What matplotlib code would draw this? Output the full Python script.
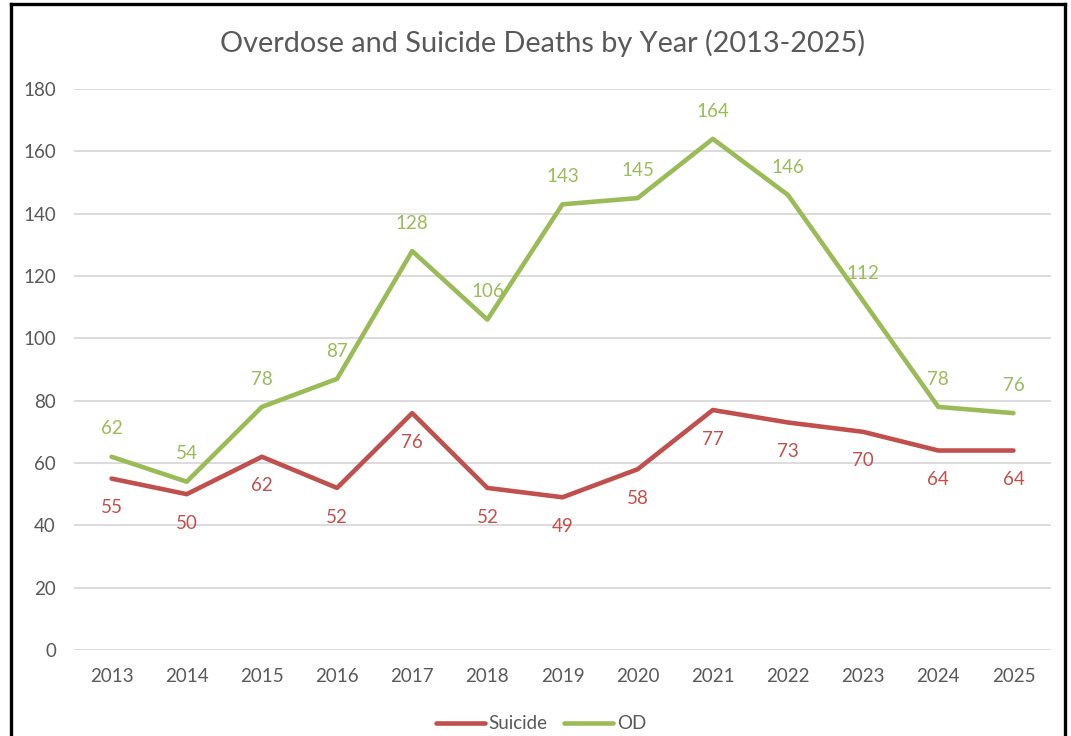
import matplotlib.pyplot as plt
from matplotlib.lines import Line2D

years = ['2013', '2014', '2015', '2016', '2017', '2018', '2019',
         '2020', '2021', '2022', '2023', '2024', '2025']
suicide = [55, 50, 62, 52, 76, 52, 49, 58, 77, 73, 70, 64, 64]
od = [62, 54, 78, 87, 128, 106, 143, 145, 164, 146, 112, 78, 76]

red = '#C0504D'
green = '#9BBB59'
grey = '#595959'
fs = 13.5

plt.rcParams['font.family'] = ['Lato', 'DejaVu Sans']

fig = plt.figure(figsize=(10.71, 7.36), dpi=100)
ax = fig.add_axes([74/1071, 1-650/736, (1051-74)/1071, (650-89)/736])

x = list(range(len(years)))
ax.plot(x, suicide, color=red, lw=3.3, label='Suicide', solid_capstyle='round', zorder=3)
ax.plot(x, od, color=green, lw=3.3, label='OD', solid_capstyle='round', zorder=3)

for i in x:
    ax.annotate(str(suicide[i]), (i, suicide[i]), xytext=(0, -21), textcoords='offset points',
                ha='center', va='center', color=red, fontsize=fs)
    ax.annotate(str(od[i]), (i, od[i]), xytext=(0, 20), textcoords='offset points',
                ha='center', va='center', color=green, fontsize=fs)

ax.set_xlim(-0.5, len(years) - 0.5)
ax.set_ylim(0, 180)
ax.set_yticks(range(0, 181, 20))
ax.set_xticks(x)
ax.set_xticklabels(years)
ax.tick_params(length=0, labelsize=fs, colors=grey)
ax.tick_params(axis='y', pad=13)
ax.tick_params(axis='x', pad=13)
ax.grid(axis='y', color='#D9D9D9', lw=1.3)
ax.set_axisbelow(True)
for s in ax.spines.values():
    s.set_visible(False)

fig.text(543/1071, 1-43/736, 'Overdose and Suicide Deaths by Year (2013-2025)',
         ha='center', va='center', fontsize=20.8, color=grey)

fig.legend(loc='lower center', bbox_to_anchor=(0.505, -0.018), ncol=2, frameon=False,
           fontsize=fs, handlelength=2.6, handletextpad=0.2, columnspacing=0.9,
           labelcolor=grey)

# black frame around the chart (bottom edge cut off)
W, H = 1071, 736
fig.add_artist(Line2D([10.5/W, 10.5/W], [0, 1-4/H], color='black', lw=2.4, transform=fig.transFigure))
fig.add_artist(Line2D([10.5/W, 1064.5/W], [1-4/H, 1-4/H], color='black', lw=2.4, transform=fig.transFigure))
fig.add_artist(Line2D([1064.5/W, 1064.5/W], [0, 1-4/H], color='black', lw=2.4, transform=fig.transFigure))

fig.savefig('out.png', dpi=100)
